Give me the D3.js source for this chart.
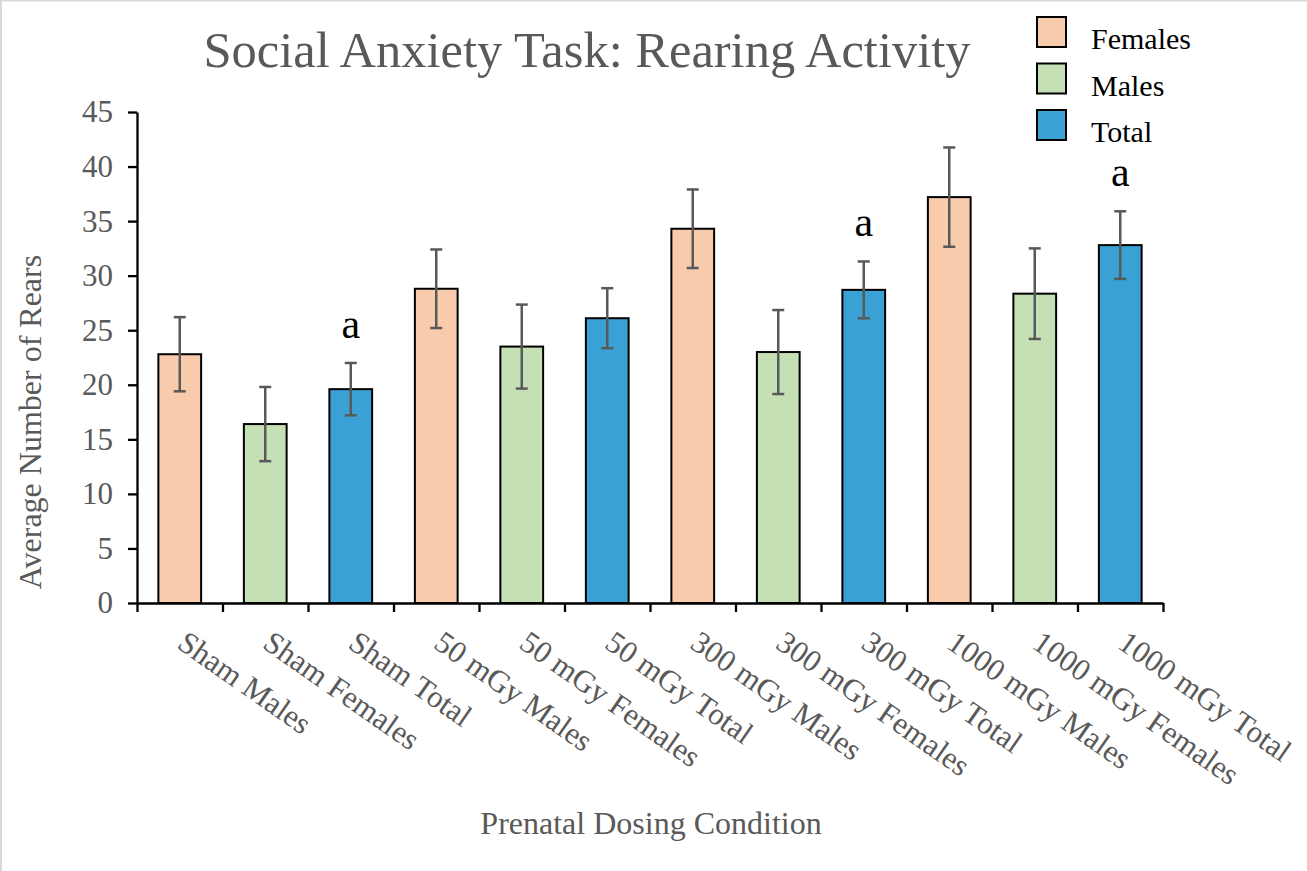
<!DOCTYPE html>
<html>
<head>
<meta charset="utf-8">
<script src="https://cdn.jsdelivr.net/npm/d3@7"></script>
<style>
  body { margin: 0; background: #fff; }
  svg { display: block; }
  text { font-family: "Liberation Serif", "Times New Roman", serif; }
</style>
</head>
<body>
<script>
// Rearing counts per prenatal dosing condition (mean ± SEM)
const categories = [
  "Sham Males", "Sham Females", "Sham Total",
  "50 mGy Males", "50 mGy Females", "50 mGy Total",
  "300 mGy Males", "300 mGy Females", "300 mGy Total",
  "1000 mGy Males", "1000 mGy Females", "1000 mGy Total"
];
const means  = [22.8, 16.4, 19.6, 28.8, 23.5, 26.1, 34.3, 23.0, 28.7, 37.2, 28.35, 32.8];
const errors = [3.4, 3.4, 2.4, 3.6, 3.85, 2.75, 3.6, 3.85, 2.6, 4.55, 4.15, 3.1];
const barSeries = ["Females", "Males", "Total", "Females", "Males", "Total",
                   "Females", "Males", "Total", "Females", "Males", "Total"];
const sigLabels = ["", "", "a", "", "", "", "", "", "a", "", "", "a"];
const legendKeys = ["Females", "Males", "Total"];
const legendColors = ["#F8CBAD", "#C5E0B4", "#39A1D3"];
const yTicks = [0, 5, 10, 15, 20, 25, 30, 35, 40, 45];

const W = 1307, H = 871;
const plot = { left: 137, right: 1163, top: 112, bottom: 603 };
const textGrey = "#595959";

const svg = d3.select("body").append("svg").attr("width", W).attr("height", H);

// light frame
svg.append("rect").attr("x", 1).attr("y", 0.5).attr("width", W + 10).attr("height", H + 10)
  .attr("fill", "none").attr("stroke", "#d9d9d9").attr("stroke-width", 2);

const color = d3.scaleOrdinal().domain(legendKeys).range(legendColors);
const x = d3.scaleBand().domain(categories).range([plot.left, plot.right])
  .paddingInner(0.5).paddingOuter(0.25);
const y = d3.scaleLinear().domain([0, 45]).range([plot.bottom, plot.top]);
const xEdges = d3.scaleLinear().domain([0, categories.length]).range([plot.left, plot.right]);

// title
svg.append("text").attr("x", 587).attr("y", 67).attr("text-anchor", "middle")
  .attr("font-size", 50.5).attr("fill", textGrey).text("Social Anxiety Task: Rearing Activity");

// bars
const data = categories.map((c, i) => ({ c, m: means[i], e: errors[i], s: barSeries[i], sig: sigLabels[i] }));
svg.append("g").selectAll("rect").data(data).join("rect")
  .attr("x", d => x(d.c)).attr("width", x.bandwidth())
  .attr("y", d => y(d.m)).attr("height", d => y(0) - y(d.m))
  .attr("fill", d => color(d.s)).attr("stroke", "#000").attr("stroke-width", 2);

// error bars
const eb = svg.append("g").attr("stroke", "#595959").attr("stroke-width", 2.5).attr("fill", "none");
const cap = 6;
data.forEach(d => {
  const cx = x(d.c) + x.bandwidth() / 2;
  eb.append("line").attr("x1", cx).attr("x2", cx).attr("y1", y(d.m + d.e)).attr("y2", y(d.m - d.e));
  eb.append("line").attr("x1", cx - cap).attr("x2", cx + cap).attr("y1", y(d.m + d.e)).attr("y2", y(d.m + d.e));
  eb.append("line").attr("x1", cx - cap).attr("x2", cx + cap).attr("y1", y(d.m - d.e)).attr("y2", y(d.m - d.e));
});

// significance letters
svg.append("g").selectAll("text").data(data.filter(d => d.sig)).join("text")
  .attr("x", d => x(d.c) + x.bandwidth() / 2)
  .attr("y", d => y(d.m + d.e) - 25)
  .attr("text-anchor", "middle").attr("font-size", 42).attr("fill", "#000")
  .text(d => d.sig);

// y axis
const yAxis = svg.append("g").attr("transform", `translate(${plot.left},0)`)
  .call(d3.axisLeft(y).tickValues(yTicks).tickSize(9).tickSizeOuter(0).tickPadding(15));
yAxis.attr("font-family", null);
yAxis.select(".domain").attr("stroke", "#000").attr("stroke-width", 2.3);
yAxis.selectAll(".tick line").attr("stroke", "#000").attr("stroke-width", 2.3);
yAxis.selectAll(".tick text").attr("font-size", 31).attr("fill", textGrey);

// x axis with ticks on category boundaries
const xAxis = svg.append("g").attr("transform", `translate(0,${plot.bottom})`)
  .call(d3.axisBottom(xEdges).tickValues(d3.range(categories.length + 1)).tickFormat("")
    .tickSize(9).tickSizeOuter(0));
xAxis.select(".domain").attr("stroke", "#000").attr("stroke-width", 2.3);
xAxis.selectAll(".tick line").attr("stroke", "#000").attr("stroke-width", 2.3);

// rotated category labels
svg.append("g").selectAll("text").data(categories).join("text")
  .attr("transform", c => `translate(${x(c) + x.bandwidth() / 2 - 4},647) rotate(35)`)
  .attr("font-size", 31).attr("fill", textGrey).text(c => c);

// axis titles
svg.append("text").attr("transform", "translate(41,422) rotate(-90)")
  .attr("text-anchor", "middle").attr("font-size", 32).attr("fill", textGrey)
  .text("Average Number of Rears");
svg.append("text").attr("x", 651).attr("y", 834).attr("text-anchor", "middle")
  .attr("font-size", 32).attr("fill", textGrey).text("Prenatal Dosing Condition");

// legend
const leg = svg.append("g").selectAll("g").data(legendKeys).join("g")
  .attr("transform", (k, i) => `translate(1037,${17 + i * 46.5})`);
leg.append("rect").attr("width", 29).attr("height", 30)
  .attr("fill", k => color(k)).attr("stroke", "#000").attr("stroke-width", 2);
leg.append("text").attr("x", 54).attr("y", 32).attr("font-size", 30).attr("fill", "#000").text(k => k);
</script>
</body>
</html>
